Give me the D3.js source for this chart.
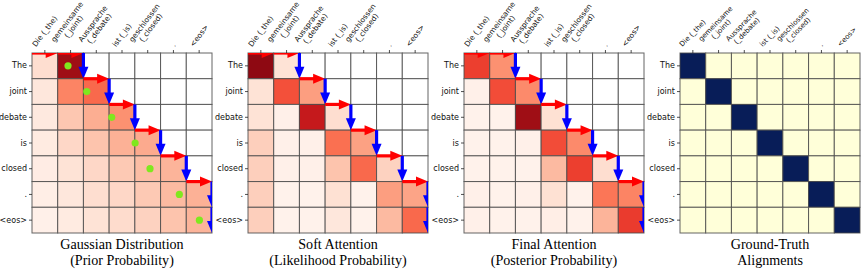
<!DOCTYPE html>
<html lang="en">
<head>
<meta charset="UTF-8">
<title>Alignments</title>
<script src="https://cdn.jsdelivr.net/npm/d3@7"></script>
<style>
body{margin:0;background:#fff;}
</style>
</head>
<body>
<script>
// target tokens (rows) and source tokens (columns)
var rows = ["The","joint","debate","is","closed",".","<eos>"];
var cols = [["Die (_the)"],["gemeinsame","(_joint)"],["Aussprache","(_debate)"],["ist (_is)"],["geschlossen","(_closed)"],["."],["<eos>"]];

// null = masked (white) cell
var gaussian = [
	[0.12,0.88,null,null,null,null,null],
	[0.08,0.42,0.50,null,null,null,null],
	[0.07,0.21,0.29,0.38,null,null,null],
	[0.06,0.15,0.22,0.28,0.30,null,null],
	[0.05,0.10,0.15,0.20,0.24,0.27,null],
	[0.04,0.08,0.12,0.15,0.20,0.25,0.28],
	[0.03,0.06,0.10,0.13,0.17,0.22,0.27]
];
var soft = [
	[0.92,0.10,null,null,null,null,null],
	[0.10,0.57,0.34,null,null,null,null],
	[0.10,0.03,0.77,0.12,null,null,null],
	[0.18,0.03,0.03,0.48,0.33,null,null],
	[0.18,0.03,0.03,0.22,0.50,0.17,null],
	[0.18,0.02,0.02,0.11,0.02,0.34,0.32],
	[0.18,0.02,0.02,0.08,0.02,0.25,0.50]
];
var final = [
	[0.62,0.38,null,null,null,null,null],
	[0.03,0.58,0.40,null,null,null,null],
	[0.02,0.02,0.88,0.11,null,null,null],
	[0.02,0.02,0.03,0.58,0.40,null,null],
	[0.02,0.02,0.02,0.25,0.62,0.12,null],
	[0.03,0.02,0.03,0.11,0.02,0.46,0.42],
	[0.03,0.02,0.02,0.04,0.02,0.27,0.63]
];
var truth = [
	[1,0,0,0,0,0,0],
	[0,1,0,0,0,0,0],
	[0,0,1,0,0,0,0],
	[0,0,0,1,0,0,0],
	[0,0,0,0,1,0,0],
	[0,0,0,0,0,1,0],
	[0,0,0,0,0,0,1]
];
// gaussian means per row, in column units
var gaussMeans = [1.40,2.13,3.10,4.01,4.59,5.73,6.51];
// R = read source (red), D = write target (blue)
var moves = ["R","R","D","R","D","R","D","R","D","R","D","R","D","D"];
var captions = [
	["Gaussian Distribution","(Prior Probability)"],
	["Soft Attention","(Likelihood Probability)"],
	["Final Attention","(Posterior Probability)"],
	["Ground-Truth","Alignments"]
];

var width = 862, height = 270;
var svg = d3.select("body").append("svg").attr("width",width).attr("height",height)
	.style("font-family","'DejaVu Sans', sans-serif");

var panels = [
	{data:gaussian, left:32, color:d3.interpolateReds, arrows:true, dots:true, angle:53, fs:7.4},
	{data:soft, left:248, color:d3.interpolateReds, arrows:true, dots:false, angle:53, fs:7.4},
	{data:final, left:464, color:d3.interpolateReds, arrows:true, dots:false, angle:53, fs:7.4},
	{data:truth, left:680, color:d3.interpolateYlGnBu, arrows:false, dots:false, angle:46, fs:7}
];
var gridTop = 53, size = 180;

panels.forEach(function(p,k){
	var x = d3.scaleBand().domain(d3.range(cols.length)).range([p.left,p.left+size]);
	var y = d3.scaleBand().domain(d3.range(rows.length)).range([gridTop,gridTop+size]);
	var xl = d3.scaleLinear().domain([0,cols.length]).range([p.left,p.left+size]);
	var yl = d3.scaleLinear().domain([0,rows.length]).range([gridTop,gridTop+size]);
	var g = svg.append("g");

	var cells = [];
	p.data.forEach(function(r,i){ r.forEach(function(v,j){ cells.push({i:i,j:j,v:v}); }); });
	g.selectAll(".cell").data(cells).enter().append("rect").attr("class","cell")
		.attr("x",function(d){return x(d.j);}).attr("y",function(d){return y(d.i);})
		.attr("width",x.bandwidth()).attr("height",y.bandwidth())
		.attr("fill",function(d){return d.v==null ? "#fff" : p.color(d.v);})
		.attr("stroke","#4a4a4a").attr("stroke-opacity",0.85).attr("stroke-width",1);

	var clipId = "clip"+k;
	svg.append("clipPath").attr("id",clipId).append("rect")
		.attr("x",p.left).attr("y",gridTop).attr("width",size).attr("height",size);
	var over = g.append("g").attr("clip-path","url(#"+clipId+")");

	if(p.dots){
		over.selectAll(".dot").data(gaussMeans).enter().append("circle").attr("class","dot")
			.attr("cx",function(d){return xl(d);}).attr("cy",function(d,i){return y(i)+y.bandwidth()/2;})
			.attr("r",3.6).attr("fill","#80e81e");
	}

	if(p.arrows){
		var c = 0, r = 0, segs = [];
		moves.forEach(function(m){
			if(m=="R"){ segs.push({x1:c,y1:r,x2:c+1,y2:r,col:"#ff0000"}); c++; }
			else { segs.push({x1:c,y1:r,x2:c,y2:r+1,col:"#0000ff"}); r++; }
		});
		var hl = 12, hw = 5;
		segs.forEach(function(s){
			var x1 = xl(s.x1), y1 = yl(s.y1), x2 = xl(s.x2), y2 = yl(s.y2);
			var len = Math.hypot(x2-x1,y2-y1), ux = (x2-x1)/len, uy = (y2-y1)/len;
			var bx = x2-ux*hl, by = y2-uy*hl;
			over.append("line").attr("x1",x1).attr("y1",y1).attr("x2",bx+ux*1).attr("y2",by+uy*1)
				.attr("stroke",s.col).attr("stroke-width",3.2);
			over.append("polygon")
				.attr("points",[[x2,y2],[bx-uy*hw,by+ux*hw],[bx+uy*hw,by-ux*hw]].map(function(q){return q.join(",");}).join(" "))
				.attr("fill",s.col);
		});
	}

	// left axis with row labels
	var ay = g.append("g").attr("transform","translate("+p.left+",0)")
		.call(d3.axisLeft(y).tickSize(3).tickPadding(2).tickFormat(function(i){return rows[i];}));
	ay.select(".domain").remove();
	ay.selectAll("text").attr("font-size",8).attr("font-family","'DejaVu Sans', sans-serif").attr("fill","#111");
	ay.selectAll("line").attr("stroke","#222").attr("stroke-width",0.8);

	// top axis ticks
	var ax = g.append("g").attr("transform","translate(0,"+gridTop+")")
		.call(d3.axisTop(x).tickSize(3).tickFormat(""));
	ax.select(".domain").remove();
	ax.selectAll("line").attr("stroke","#222").attr("stroke-width",0.8);

	// rotated column labels, centred on the tick
	cols.forEach(function(lines,j){
		var outer = g.append("g");
		var inner = outer.append("g").attr("transform","rotate(-"+p.angle+")");
		lines.forEach(function(t,n){
			inner.append("text").attr("text-anchor","middle")
				.attr("y",(n-(lines.length-1))*p.fs*1.1)
				.attr("font-size",p.fs).attr("fill","#111").text(t);
		});
		var bb = outer.node().getBBox();
		var cx = x(j)+x.bandwidth()/2;
		outer.attr("transform","translate("+(cx-(bb.x+bb.width/2))+","+(48.5-(bb.y+bb.height))+")");
	});

	// caption (slightly condensed serif)
	captions[k].forEach(function(t,n){
		svg.append("text").attr("text-anchor","middle")
			.attr("transform","translate("+(p.left+size/2)+","+(249+n*16)+") scale(0.94,1)")
			.attr("font-family","'Liberation Serif', 'Times New Roman', serif").attr("font-size",15)
			.attr("fill","#000").text(t);
	});
});
</script>
</body>
</html>
